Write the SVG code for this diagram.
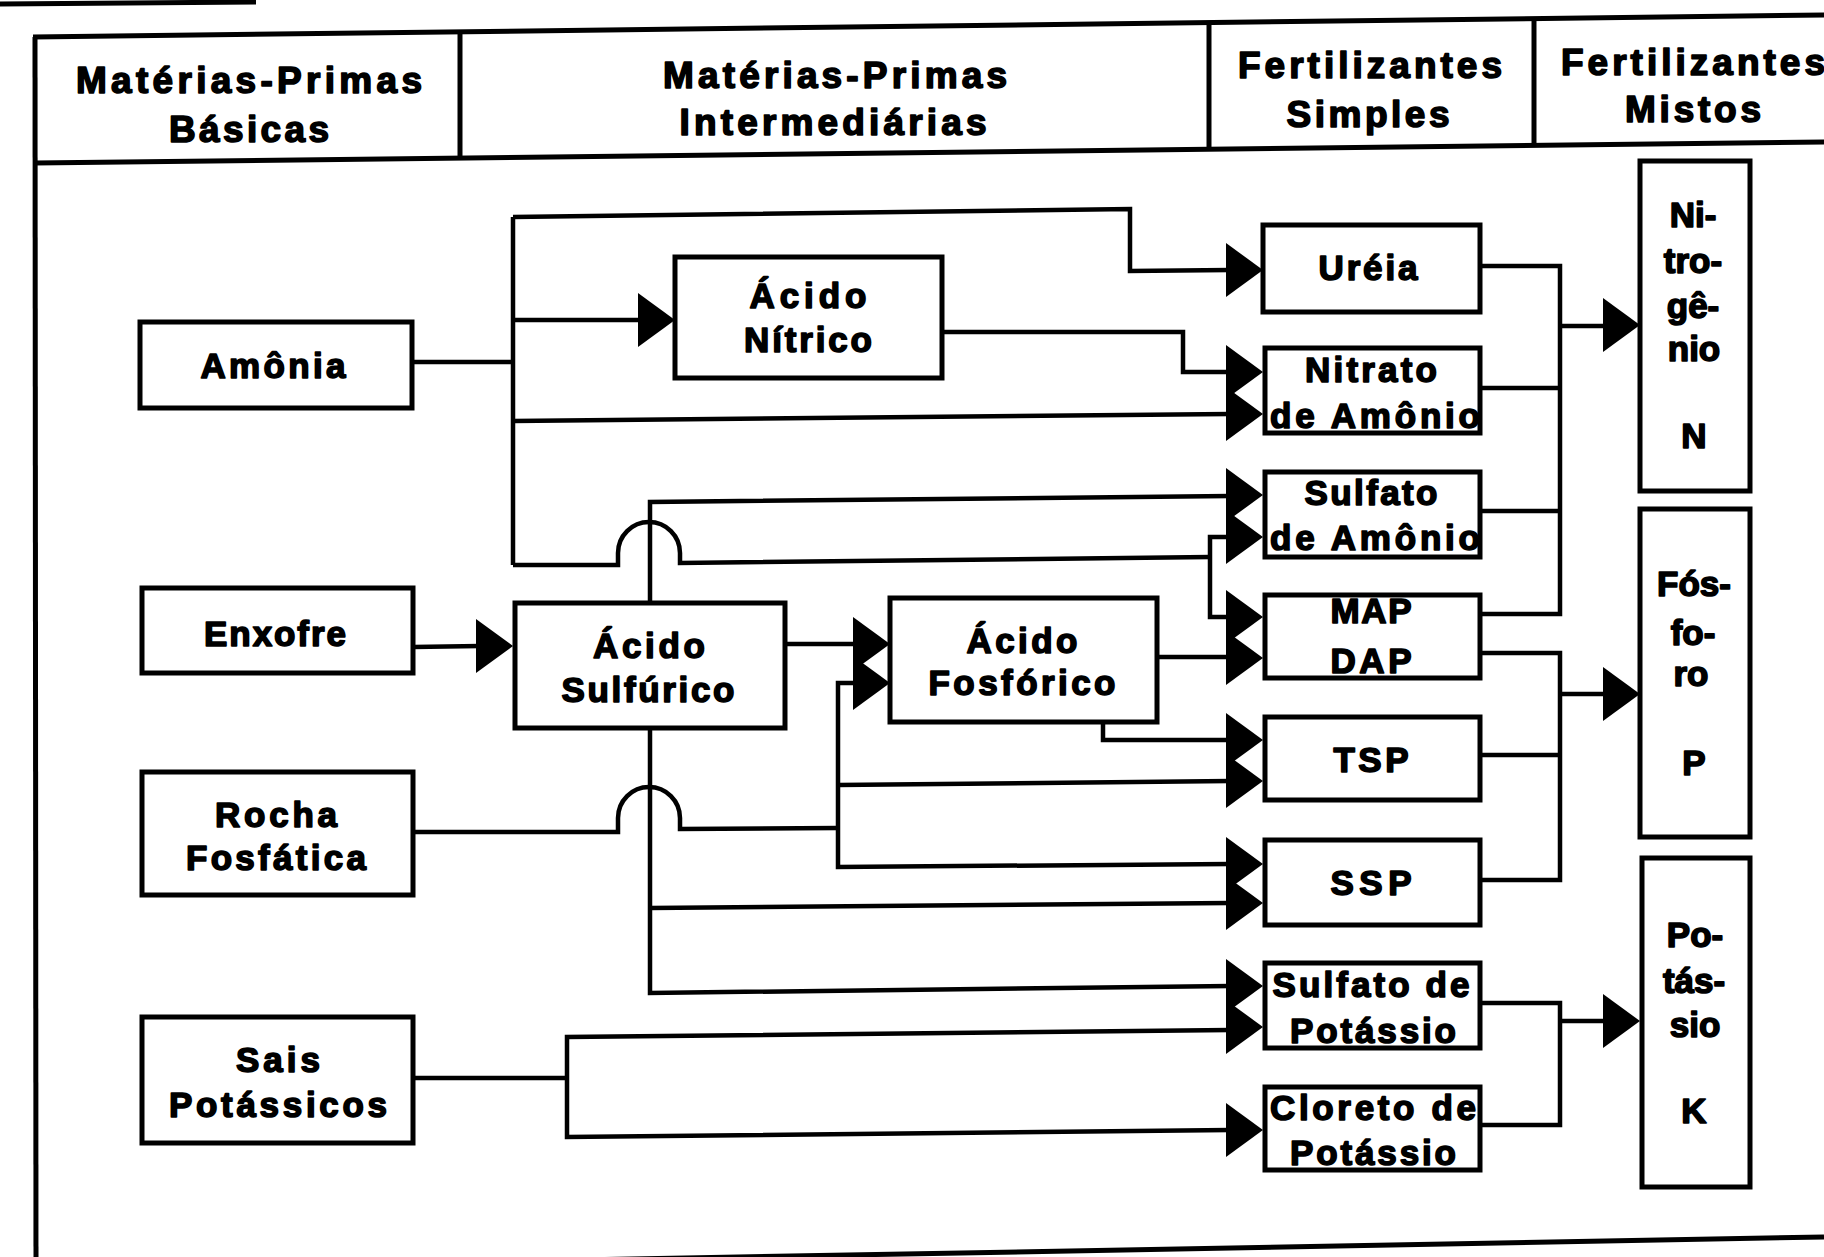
<svg xmlns="http://www.w3.org/2000/svg" xmlns:xlink="http://www.w3.org/1999/xlink" width="1824" height="1257" viewBox="0 0 1824 1257">
<style>
.box{fill:#fff;stroke:#000;stroke-width:5}
.ln{fill:none;stroke:#000;stroke-width:4.5;stroke-linejoin:miter}
.fr{fill:none;stroke:#000;stroke-width:5}
.t{font-family:"Liberation Sans",Arial,sans-serif;font-weight:bold;font-size:35px;text-anchor:middle;fill:#000;stroke:#000;stroke-width:1.6;stroke-linejoin:round}
.h{font-size:37px}
</style>
<defs>
<path id="ah" d="M0,0 L-37,-27 L-37,27 Z" fill="#000"/>
</defs>
<rect width="1824" height="1257" fill="#fff"/>

<g id="frame">
<line class="fr" x1="0" y1="4" x2="256" y2="2" stroke-width="6"/>
<line class="fr" x1="33" y1="37" x2="1824" y2="15"/>
<line class="fr" x1="35" y1="37" x2="36" y2="1270"/>
<line class="fr" x1="35" y1="163" x2="1824" y2="142"/>
<line class="fr" x1="460" y1="32" x2="460" y2="158"/>
<line class="fr" x1="1209" y1="22" x2="1209" y2="149"/>
<line class="fr" x1="1534" y1="18" x2="1534" y2="145"/>
<line class="fr" x1="36" y1="1270" x2="1824" y2="1237"/>
</g>

<g id="header">
<text class="t h" x="249" y="93" textLength="346" lengthAdjust="spacing">Matérias-Primas</text>
<text class="t h" x="249" y="142" textLength="160" lengthAdjust="spacing">Básicas</text>
<text class="t h" x="835" y="88" textLength="344" lengthAdjust="spacing">Matérias-Primas</text>
<text class="t h" x="833" y="135" textLength="307" lengthAdjust="spacing">Intermediárias</text>
<text class="t h" x="1370" y="78" textLength="264" lengthAdjust="spacing">Fertilizantes</text>
<text class="t h" x="1368" y="127" textLength="163" lengthAdjust="spacing">Simples</text>
<text class="t h" x="1693" y="75" textLength="264" lengthAdjust="spacing">Fertilizantes</text>
<text class="t h" x="1693" y="122" textLength="136" lengthAdjust="spacing">Mistos</text>
</g>

<g id="connectors">
<!-- Amonia -->
<polyline class="ln" points="413,362 513,362"/>
<polyline class="ln" points="513,217 513,565"/>
<polyline class="ln" points="513,217 1130,209 1130,271 1230,270"/>
<polyline class="ln" points="513,320 640,320"/>
<polyline class="ln" points="513,421 1230,414"/>
<path class="ln" d="M513,565 L618,565 L618,553 A31,31 0 0 1 680,553 L680,563 L1210,557"/>
<polyline class="ln" points="1230,537 1210,537 1210,617 1230,617"/>
<!-- Nitrico -->
<polyline class="ln" points="942,332 1183,332 1183,372 1230,372"/>
<!-- Sulfurico -->
<polyline class="ln" points="650,603 650,502 1230,496"/>
<polyline class="ln" points="785,644 855,644"/>
<polyline class="ln" points="650,728 650,993 1230,986"/>
<polyline class="ln" points="650,908 1230,903"/>
<!-- Enxofre -->
<polyline class="ln" points="413,647 480,646"/>
<!-- Rocha -->
<path class="ln" d="M413,832 L618,832 L618,818 A31,31 0 0 1 680,818 L680,829 L838,828"/>
<polyline class="ln" points="855,683 838,683 838,867 1230,864"/>
<polyline class="ln" points="838,785 1230,781"/>
<!-- Fosforico -->
<polyline class="ln" points="1157,657 1230,657"/>
<polyline class="ln" points="1103,722 1103,740 1230,740"/>
<!-- Sais -->
<polyline class="ln" points="413,1078 567,1078"/>
<polyline class="ln" points="1230,1030 567,1037 567,1137 1230,1130"/>
<!-- outputs N -->
<polyline class="ln" points="1480,266 1560,266 1560,614 1480,614"/>
<polyline class="ln" points="1480,388 1560,388"/>
<polyline class="ln" points="1480,511 1560,511"/>
<polyline class="ln" points="1560,326 1605,326"/>
<!-- outputs P -->
<polyline class="ln" points="1480,653 1560,653 1560,880 1480,880"/>
<polyline class="ln" points="1480,755 1560,755"/>
<polyline class="ln" points="1560,694 1605,694"/>
<!-- outputs K -->
<polyline class="ln" points="1480,1003 1560,1003 1560,1125 1480,1125"/>
<polyline class="ln" points="1560,1021 1605,1021"/>
<!-- arrowheads -->
<use xlink:href="#ah" x="1263" y="270"/>
<use xlink:href="#ah" x="675" y="320"/>
<use xlink:href="#ah" x="1263" y="372"/>
<use xlink:href="#ah" x="1263" y="414"/>
<use xlink:href="#ah" x="1263" y="495"/>
<use xlink:href="#ah" x="1263" y="537"/>
<use xlink:href="#ah" x="1263" y="617"/>
<use xlink:href="#ah" x="1263" y="658"/>
<use xlink:href="#ah" x="1263" y="740"/>
<use xlink:href="#ah" x="1263" y="781"/>
<use xlink:href="#ah" x="1263" y="864"/>
<use xlink:href="#ah" x="1263" y="903"/>
<use xlink:href="#ah" x="1263" y="986"/>
<use xlink:href="#ah" x="1263" y="1027"/>
<use xlink:href="#ah" x="1263" y="1130"/>
<use xlink:href="#ah" x="513" y="646"/>
<use xlink:href="#ah" x="890" y="644"/>
<use xlink:href="#ah" x="890" y="683"/>
<use xlink:href="#ah" x="1640" y="325"/>
<use xlink:href="#ah" x="1640" y="694"/>
<use xlink:href="#ah" x="1640" y="1021"/>
</g>

<g id="amonia">
<rect class="box" x="140" y="322" width="272" height="86"/>
<text class="t" x="273" y="378" textLength="145" lengthAdjust="spacing">Amônia</text>
</g>
<g id="enxofre">
<rect class="box" x="142" y="588" width="271" height="85"/>
<text class="t" x="275" y="646" textLength="142" lengthAdjust="spacing">Enxofre</text>
</g>
<g id="rocha-fosfatica">
<rect class="box" x="142" y="772" width="271" height="123"/>
<text class="t" x="276" y="827" textLength="122" lengthAdjust="spacing">Rocha</text>
<text class="t" x="276" y="870" textLength="180" lengthAdjust="spacing">Fosfática</text>
</g>
<g id="sais-potassicos">
<rect class="box" x="142" y="1017" width="271" height="126"/>
<text class="t" x="278" y="1072" textLength="84" lengthAdjust="spacing">Sais</text>
<text class="t" x="278" y="1117" textLength="218" lengthAdjust="spacing">Potássicos</text>
</g>
<g id="acido-nitrico">
<rect class="box" x="675" y="257" width="267" height="121"/>
<text class="t" x="808" y="308" textLength="117" lengthAdjust="spacing">Ácido</text>
<text class="t" x="808" y="352" textLength="128" lengthAdjust="spacing">Nítrico</text>
</g>
<g id="acido-sulfurico">
<rect class="box" x="515" y="603" width="270" height="125"/>
<text class="t" x="649" y="658" textLength="112" lengthAdjust="spacing">Ácido</text>
<text class="t" x="648" y="702" textLength="173" lengthAdjust="spacing">Sulfúrico</text>
</g>
<g id="acido-fosforico">
<rect class="box" x="890" y="598" width="267" height="124"/>
<text class="t" x="1022" y="653" textLength="111" lengthAdjust="spacing">Ácido</text>
<text class="t" x="1022" y="695" textLength="187" lengthAdjust="spacing">Fosfórico</text>
</g>
<g id="ureia">
<rect class="box" x="1263" y="225" width="217" height="87"/>
<text class="t" x="1368" y="280" textLength="99" lengthAdjust="spacing">Uréia</text>
</g>
<g id="nitrato-amonio">
<rect class="box" x="1265" y="348" width="215" height="85"/>
<text class="t" x="1371" y="382" textLength="132" lengthAdjust="spacing">Nitrato</text>
<text class="t" x="1375" y="428" textLength="210" lengthAdjust="spacing">de Amônio</text>
</g>
<g id="sulfato-amonio">
<rect class="box" x="1265" y="472" width="215" height="85"/>
<text class="t" x="1371" y="505" textLength="133" lengthAdjust="spacing">Sulfato</text>
<text class="t" x="1375" y="550" textLength="210" lengthAdjust="spacing">de Amônio</text>
</g>
<g id="map-dap">
<rect class="box" x="1265" y="595" width="215" height="83"/>
<text class="t" x="1371" y="623" textLength="81" lengthAdjust="spacing">MAP</text>
<text class="t" x="1371" y="673" textLength="81" lengthAdjust="spacing">DAP</text>
</g>
<g id="tsp">
<rect class="box" x="1265" y="717" width="215" height="83"/>
<text class="t" x="1371" y="772" textLength="75" lengthAdjust="spacing">TSP</text>
</g>
<g id="ssp">
<rect class="box" x="1265" y="840" width="215" height="85"/>
<text class="t" x="1371" y="895" textLength="81" lengthAdjust="spacing">SSP</text>
</g>
<g id="sulfato-potassio">
<rect class="box" x="1265" y="963" width="215" height="85"/>
<text class="t" x="1371" y="997" textLength="197" lengthAdjust="spacing">Sulfato de</text>
<text class="t" x="1373" y="1043" textLength="166" lengthAdjust="spacing">Potássio</text>
</g>
<g id="cloreto-potassio">
<rect class="box" x="1265" y="1087" width="215" height="83"/>
<text class="t" x="1373" y="1120" textLength="206" lengthAdjust="spacing">Cloreto de</text>
<text class="t" x="1373" y="1165" textLength="166" lengthAdjust="spacing">Potássio</text>
</g>
<g id="nitrogenio">
<rect class="box" x="1640" y="161" width="110" height="330"/>
<text class="t" x="1693" y="227">Ni-</text>
<text class="t" x="1693" y="273">tro-</text>
<text class="t" x="1693" y="318">gê-</text>
<text class="t" x="1694" y="361">nio</text>
<text class="t" x="1694" y="448">N</text>
</g>
<g id="fosforo">
<rect class="box" x="1640" y="509" width="110" height="328"/>
<text class="t" x="1694" y="596">Fós-</text>
<text class="t" x="1693" y="645">fo-</text>
<text class="t" x="1691" y="686">ro</text>
<text class="t" x="1694" y="775">P</text>
</g>
<g id="potassio">
<rect class="box" x="1642" y="858" width="108" height="329"/>
<text class="t" x="1695" y="947">Po-</text>
<text class="t" x="1694" y="993">tás-</text>
<text class="t" x="1695" y="1037">sio</text>
<text class="t" x="1694" y="1123">K</text>
</g>
</svg>
